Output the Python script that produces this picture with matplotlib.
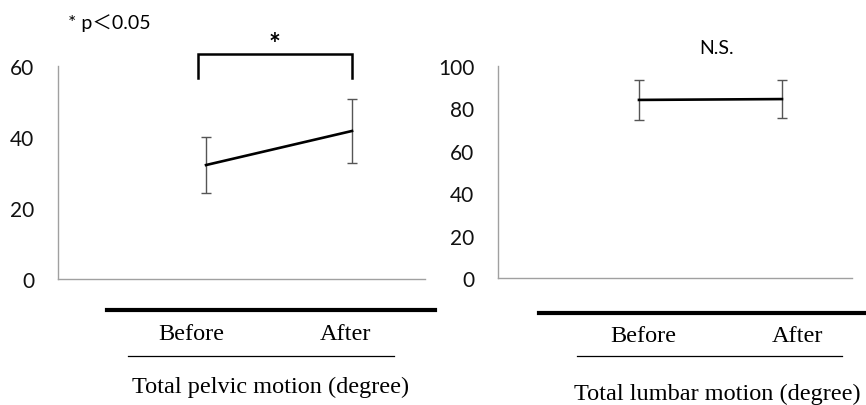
import matplotlib
matplotlib.use("Agg")
import matplotlib.pyplot as plt
from matplotlib.lines import Line2D

# data
groups = ["Before", "After"]
pelvic_mean = [32.1, 41.7]
pelvic_sd = [7.8, 9.0]
lumbar_mean = [84.0, 84.4]
lumbar_sd = [9.4, 9.0]
pelvic_ticks = [0, 20, 40, 60]
lumbar_ticks = [0, 20, 40, 60, 80, 100]

sans = ["Lato", "Noto Sans CJK JP", "DejaVu Sans"]
serif = "Liberation Serif"
plt.rcParams["font.family"] = sans

fig = plt.figure(figsize=(8.66, 4.06), dpi=100)
W, H = 866, 406

def add_ax(x0, x1, y0, y1):
    return fig.add_axes([x0 / W, (H - y1) / H, (x1 - x0) / W, (y1 - y0) / H])

def style(ax, ticks, top):
    ax.set_ylim(0, top)
    ax.set_yticks(ticks)
    ax.set_xticks([])
    for s in ["top", "right"]:
        ax.spines[s].set_visible(False)
    for s in ["left", "bottom"]:
        ax.spines[s].set_color("#a0a0a0")
        ax.spines[s].set_linewidth(1.0)
    ax.tick_params(axis="y", length=0, pad=17, labelsize=15,
                   labelcolor="#111111")

xs = [1, 2]

# left panel: pelvic motion
ax1 = add_ax(58, 425, 67, 280)
ax1.errorbar(xs, pelvic_mean, yerr=pelvic_sd, color="black", lw=1.9,
             ecolor="#555555", elinewidth=1.0, capsize=3.5, capthick=1.0)
ax1.set_xlim(-0.014, 2.5)
style(ax1, pelvic_ticks, 60)
# significance bracket
ax1.plot([0.945, 0.945, 2.0, 2.0], [56.6, 63.4, 63.4, 56.6], color="black",
         lw=1.8, clip_on=False, solid_joinstyle="miter")
ax1.text(1.47, 66.3, "*", ha="center", va="center", fontsize=20,
         fontweight="bold", clip_on=False)

# right panel: lumbar motion
ax2 = add_ax(498, 852, 67, 279)
ax2.errorbar(xs, lumbar_mean, yerr=lumbar_sd, color="black", lw=1.9,
             ecolor="#555555", elinewidth=1.0, capsize=3.5, capthick=1.0)
ax2.set_xlim(0.014, 2.49)
style(ax2, lumbar_ticks, 100)

# annotations
fig.text(68 / W, 1 - 23 / H, "* p\uff1c0.05", fontsize=14, va="center",
         ha="left", family=sans)
fig.text(717 / W, 1 - 48 / H, "N.S.", fontsize=14, va="center", ha="center")

# decorative lines under panels
def hline(x0, x1, y, lw):
    fig.add_artist(Line2D([x0 / W, x1 / W], [1 - y / H, 1 - y / H],
                          color="black", lw=lw, transform=fig.transFigure))

hline(107, 435, 311, 3.0)
hline(539, 866, 314, 3.0)
hline(128, 394, 357, 0.9)
hline(577, 842, 357, 0.9)

# category labels and titles
for (x, y), lab in zip([(191, 335), (345, 335)], groups):
    fig.text(x / W, 1 - y / H, lab, family=serif, fontsize=17.5,
             ha="center", va="center")
for (x, y), lab in zip([(643, 337), (797, 337)], groups):
    fig.text(x / W, 1 - y / H, lab, family=serif, fontsize=17.5,
             ha="center", va="center")
fig.text(271 / W, 1 - 387 / H, "Total pelvic motion (degree)", family=serif,
         fontsize=17.5, ha="center", va="center")
fig.text(717 / W, 1 - 394 / H, "Total lumbar motion (degree)", family=serif,
         fontsize=17.5, ha="center", va="center")

fig.savefig("out.png", dpi=100, facecolor="white")
